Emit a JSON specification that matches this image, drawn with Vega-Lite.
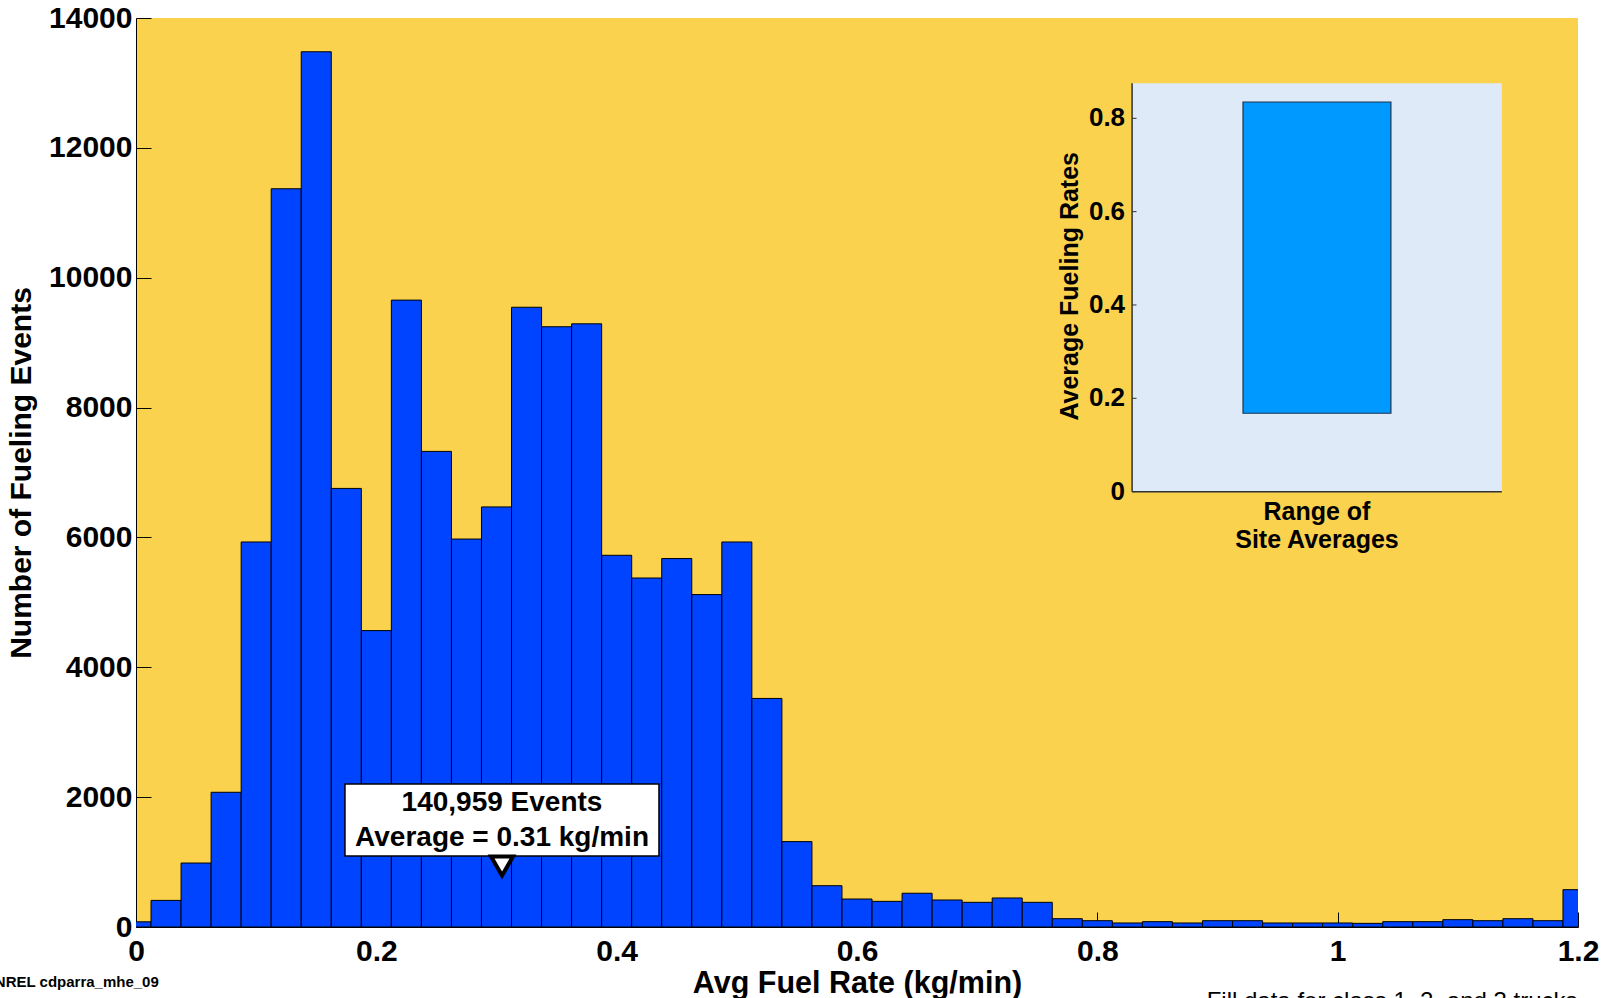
{
  "$schema": "https://vega.github.io/schema/vega-lite/v6.json",
  "width": 1442,
  "height": 909,
  "autosize": {"type": "none"},
  "padding": {"left": 136, "top": 18, "right": 36, "bottom": 71},
  "background": "white",
  "config": {
    "view": {"fill": "#FAD24E", "stroke": null},
    "font": "Liberation Sans",
    "text": {"font": "Liberation Sans"}
  },
  "datasets": {
    "hist": [
      {"lo": -0.0125, "hi": 0.0125, "count": 80},
      {"lo": 0.0125, "hi": 0.0375, "count": 410},
      {"lo": 0.0375, "hi": 0.0625, "count": 985},
      {"lo": 0.0625, "hi": 0.0875, "count": 2075},
      {"lo": 0.0875, "hi": 0.1125, "count": 5930},
      {"lo": 0.1125, "hi": 0.1375, "count": 11370},
      {"lo": 0.1375, "hi": 0.1625, "count": 13480},
      {"lo": 0.1625, "hi": 0.1875, "count": 6755},
      {"lo": 0.1875, "hi": 0.2125, "count": 4565},
      {"lo": 0.2125, "hi": 0.2375, "count": 9655},
      {"lo": 0.2375, "hi": 0.2625, "count": 7325},
      {"lo": 0.2625, "hi": 0.2875, "count": 5975},
      {"lo": 0.2875, "hi": 0.3125, "count": 6470},
      {"lo": 0.3125, "hi": 0.3375, "count": 9545},
      {"lo": 0.3375, "hi": 0.3625, "count": 9245},
      {"lo": 0.3625, "hi": 0.3875, "count": 9290},
      {"lo": 0.3875, "hi": 0.4125, "count": 5725},
      {"lo": 0.4125, "hi": 0.4375, "count": 5375},
      {"lo": 0.4375, "hi": 0.4625, "count": 5675},
      {"lo": 0.4625, "hi": 0.4875, "count": 5120},
      {"lo": 0.4875, "hi": 0.5125, "count": 5930},
      {"lo": 0.5125, "hi": 0.5375, "count": 3520},
      {"lo": 0.5375, "hi": 0.5625, "count": 1315},
      {"lo": 0.5625, "hi": 0.5875, "count": 636},
      {"lo": 0.5875, "hi": 0.6125, "count": 431},
      {"lo": 0.6125, "hi": 0.6375, "count": 395},
      {"lo": 0.6375, "hi": 0.6625, "count": 520},
      {"lo": 0.6625, "hi": 0.6875, "count": 416},
      {"lo": 0.6875, "hi": 0.7125, "count": 380},
      {"lo": 0.7125, "hi": 0.7375, "count": 447},
      {"lo": 0.7375, "hi": 0.7625, "count": 380},
      {"lo": 0.7625, "hi": 0.7875, "count": 128},
      {"lo": 0.7875, "hi": 0.8125, "count": 97},
      {"lo": 0.8125, "hi": 0.8375, "count": 62},
      {"lo": 0.8375, "hi": 0.8625, "count": 82},
      {"lo": 0.8625, "hi": 0.8875, "count": 62},
      {"lo": 0.8875, "hi": 0.9125, "count": 97},
      {"lo": 0.9125, "hi": 0.9375, "count": 97},
      {"lo": 0.9375, "hi": 0.9625, "count": 62},
      {"lo": 0.9625, "hi": 0.9875, "count": 62},
      {"lo": 0.9875, "hi": 1.0125, "count": 62},
      {"lo": 1.0125, "hi": 1.0375, "count": 56},
      {"lo": 1.0375, "hi": 1.0625, "count": 82},
      {"lo": 1.0625, "hi": 1.0875, "count": 82},
      {"lo": 1.0875, "hi": 1.1125, "count": 113},
      {"lo": 1.1125, "hi": 1.1375, "count": 97},
      {"lo": 1.1375, "hi": 1.1625, "count": 128},
      {"lo": 1.1625, "hi": 1.1875, "count": 97},
      {"lo": 1.1875, "hi": 1.2125, "count": 575}
    ],
    "box": [{"lo": 0.1739, "hi": 0.4352, "count": 1093, "count2": 2202}],
    "boxText": [
      {"lo": 0.3046, "count": 1910, "text": "140,959 Events"},
      {"lo": 0.3046, "count": 1371, "text": "Average = 0.31 kg/min"}
    ],
    "avg": [{"lo": 0.3046, "count": 940}],
    "notes": [
      {"lo": -0.1175, "count": -919, "text": "NREL cdparra_mhe_09"}
    ],
    "notes2": [
      {"lo": 0.891, "count": -1263, "text": "Fill data for class 1, 2, and 3 trucks"}
    ],
    "insetBg": [{"x0": 0.5, "x1": 1.5, "y0": 0, "y1": 0.875}],
    "insetBar": [{"x0": 0.8, "x1": 1.2, "lo": 0.168, "hi": 0.835}],
    "insetTicks": [
      {"v": 0, "t": "0"},
      {"v": 0.2, "t": "0.2"},
      {"v": 0.4, "t": "0.4"},
      {"v": 0.6, "t": "0.6"},
      {"v": 0.8, "t": "0.8"}
    ],
    "insetXLab": [
      {"x": 1, "y": -0.043, "text": "Range of"},
      {"x": 1, "y": -0.1035, "text": "Site Averages"}
    ],
    "insetYTitle": [{"x": 0.332, "y": 0.44, "text": "Average Fueling Rates"}]
  },
  "resolve": {"scale": {"x": "independent", "y": "independent"}, "axis": {"x": "independent", "y": "independent"}},
  "layer": [
    {
      "encoding": {
        "x": {
          "field": "lo", "type": "quantitative",
          "scale": {"domain": [0, 1.2], "nice": false, "zero": false},
          "axis": {
            "title": "Avg Fuel Rate (kg/min)",
            "values": [0, 0.2, 0.4, 0.6, 0.8, 1, 1.2],
            "format": "~g",
            "grid": false,
            "domainColor": "#000000",
            "tickColor": "#000000",
            "tickSize": -15,
            "labelPadding": 24,
            "labelFontSize": 30,
            "labelFontWeight": "bold",
            "labelColor": "#000000",
            "labelFlush": false,
            "titleFontSize": 30.5,
            "titleFontWeight": "bold",
            "titleColor": "#000000",
            "titlePadding": 2
          }
        },
        "y": {
          "field": "count", "type": "quantitative",
          "scale": {"domain": [0, 14000], "nice": false},
          "axis": {
            "title": "Number of Fueling Events",
            "values": [0, 2000, 4000, 6000, 8000, 10000, 12000, 14000],
            "format": "d",
            "grid": false,
            "domainColor": "#000000",
            "tickColor": "#000000",
            "tickSize": -15,
            "labelPadding": 19,
            "labelFontSize": 30,
            "labelFontWeight": "bold",
            "labelColor": "#000000",
            "labelFlush": false,
            "titleFontSize": 30,
            "titleFontWeight": "bold",
            "titleColor": "#000000",
            "titlePadding": 12
          }
        }
      },
      "layer": [
        {
          "data": {"name": "hist"},
          "mark": {"type": "rect", "clip": true, "fill": "#0044FF", "stroke": "#000000", "strokeWidth": 1},
          "encoding": {
            "x2": {"field": "hi"},
            "y2": {"datum": 0}
          }
        },
        {
          "data": {"name": "box"},
          "mark": {"type": "rect", "fill": "#FFFFFF", "stroke": "#000000", "strokeWidth": 1.5},
          "encoding": {
            "x2": {"field": "hi"},
            "y2": {"field": "count2"}
          }
        },
        {
          "data": {"name": "boxText"},
          "mark": {"type": "text", "fontSize": 28, "fontWeight": "bold", "color": "#000000", "align": "center", "baseline": "middle"},
          "encoding": {
            "text": {"field": "text"}
          }
        },
        {
          "data": {"name": "avg"},
          "mark": {"type": "point", "shape": "triangle-down", "filled": true, "fill": "#FFFFFF", "stroke": "#000000", "strokeWidth": 4, "size": 480, "opacity": 1},
          "encoding": {}
        },
        {
          "data": {"name": "notes"},
          "mark": {"type": "text", "fontSize": 15, "fontWeight": "bold", "color": "#000000", "align": "left", "baseline": "alphabetic", "clip": false},
          "encoding": {
            "text": {"field": "text"}
          }
        },
        {
          "data": {"name": "notes2"},
          "mark": {"type": "text", "fontSize": 24, "color": "#000000", "align": "left", "baseline": "alphabetic", "clip": false},
          "encoding": {
            "text": {"field": "text"}
          }
        }
      ]
    },
    {
      "layer": [
        {
          "data": {"name": "insetBg"},
          "mark": {"type": "rect", "fill": "#DEEAF8"},
          "encoding": {
            "x": {"field": "x0", "type": "quantitative", "axis": null, "scale": {"domain": [-2.194, 1.706], "nice": false, "zero": false}},
            "x2": {"field": "x1"},
            "y": {"field": "y0", "type": "quantitative", "axis": null, "scale": {"domain": [-0.933, 1.015], "nice": false, "zero": false}},
            "y2": {"field": "y1"}
          }
        },
        {
          "data": {"name": "insetBar"},
          "mark": {"type": "rect", "fill": "#0099FF", "stroke": "#1C3550", "strokeWidth": 1.2},
          "encoding": {
            "x": {"field": "x0", "type": "quantitative", "axis": null},
            "x2": {"field": "x1"},
            "y": {"field": "lo", "type": "quantitative", "axis": null},
            "y2": {"field": "hi"}
          }
        },
        {
          "data": {"name": "insetBg"},
          "mark": {"type": "rule", "color": "#333333", "strokeWidth": 1.5},
          "encoding": {
            "x": {"field": "x0", "type": "quantitative", "axis": null},
            "y": {"field": "y0", "type": "quantitative", "axis": null},
            "y2": {"field": "y1"}
          }
        },
        {
          "data": {"name": "insetBg"},
          "mark": {"type": "rule", "color": "#333333", "strokeWidth": 1.5},
          "encoding": {
            "x": {"field": "x0", "type": "quantitative", "axis": null},
            "x2": {"field": "x1"},
            "y": {"field": "y0", "type": "quantitative", "axis": null}
          }
        },
        {
          "data": {"name": "insetTicks"},
          "mark": {"type": "rule", "color": "#333333", "strokeWidth": 1},
          "encoding": {
            "x": {"datum": 0.5, "type": "quantitative", "axis": null},
            "x2": {"datum": 0.512},
            "y": {"field": "v", "type": "quantitative", "axis": null}
          }
        },
        {
          "data": {"name": "insetTicks"},
          "mark": {"type": "text", "fontSize": 26, "fontWeight": "bold", "color": "#000000", "align": "right", "baseline": "middle", "dx": -7},
          "encoding": {
            "x": {"datum": 0.5, "type": "quantitative", "axis": null},
            "y": {"field": "v", "type": "quantitative", "axis": null},
            "text": {"field": "t"}
          }
        },
        {
          "data": {"name": "insetXLab"},
          "mark": {"type": "text", "fontSize": 25, "fontWeight": "bold", "color": "#000000", "align": "center", "baseline": "middle"},
          "encoding": {
            "x": {"field": "x", "type": "quantitative", "axis": null},
            "y": {"field": "y", "type": "quantitative", "axis": null},
            "text": {"field": "text"}
          }
        },
        {
          "data": {"name": "insetYTitle"},
          "mark": {"type": "text", "fontSize": 25, "fontWeight": "bold", "color": "#000000", "align": "center", "baseline": "middle", "angle": 270},
          "encoding": {
            "x": {"field": "x", "type": "quantitative", "axis": null},
            "y": {"field": "y", "type": "quantitative", "axis": null},
            "text": {"field": "text"}
          }
        }
      ]
    }
  ]
}
